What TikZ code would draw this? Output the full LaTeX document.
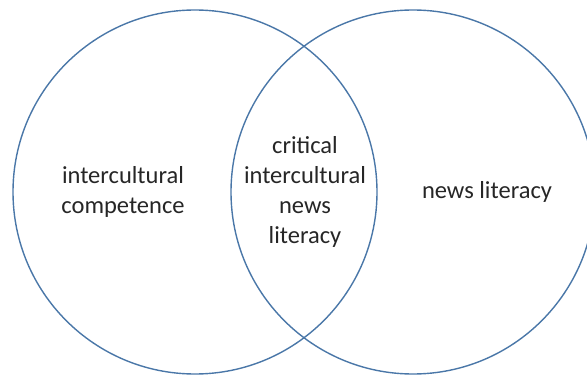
\documentclass[tikz,border=0pt]{standalone}
\usepackage{fontspec}
\setmainfont{Carlito}
\begin{document}
\begin{tikzpicture}[x=1pt,y=-1pt,
  ring/.style={draw=ringblue, line width=1.4pt},
  lbl/.style={align=center, font=\fontsize{24.5}{30}\selectfont, text=black!85, inner sep=0pt}]
\definecolor{ringblue}{HTML}{4A77A8}
\useasboundingbox (0,0) rectangle (587,377);
\clip (0,0) rectangle (587,377);
\node[ring, circle, minimum size=364pt, inner sep=0pt] (L) at (195,192) {};
\node[ring, circle, minimum size=364pt, inner sep=0pt] (R) at (413,192) {};
\node[lbl] (lt) at (123,192) {intercultural\\competence};
\node[lbl] (mt) at (305,192) {critical\\intercultural\\news\\literacy};
\node[lbl] (rt) at (487,192) {news literacy};
\end{tikzpicture}
\end{document}
